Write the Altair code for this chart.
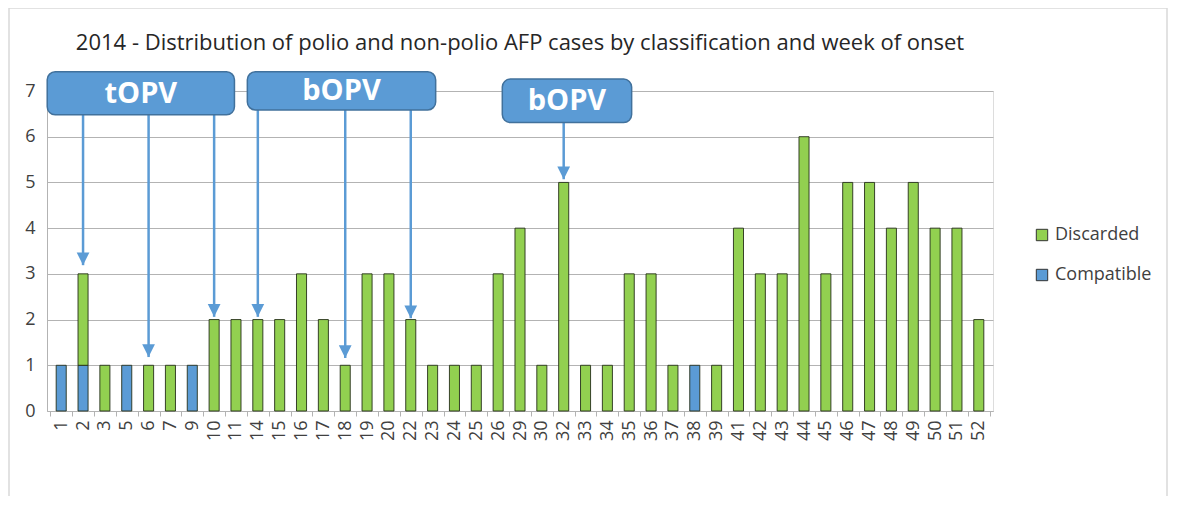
import altair as alt
import pandas as pd

# ---------------- data ----------------
weeks = ["1", "2", "3", "5", "6", "7", "9", "10", "11", "14", "15", "16", "17", "18",
         "19", "20", "22", "23", "24", "25", "26", "29", "30", "32", "33", "34", "35",
         "36", "37", "38", "39", "41", "42", "43", "44", "45", "46", "47", "48", "49",
         "50", "51", "52"]
compatible = [1, 1, 0, 1, 0, 0, 1, 0, 0, 0, 0, 0, 0, 0,
              0, 0, 0, 0, 0, 0, 0, 0, 0, 0, 0, 0, 0,
              0, 0, 1, 0, 0, 0, 0, 0, 0, 0, 0, 0, 0,
              0, 0, 0]
discarded = [0, 2, 1, 0, 1, 1, 0, 2, 2, 2, 2, 3, 2, 1,
             3, 3, 2, 1, 1, 1, 3, 4, 1, 5, 1, 1, 3,
             3, 1, 0, 1, 4, 3, 3, 6, 3, 5, 5, 4, 5,
             4, 4, 2]
series = ["Discarded", "Compatible"]
series_colors = ["#92D050", "#5B9BD5"]

# callout boxes (x in category-index units, y in case units)
box_labels = ["tOPV", "bOPV", "bOPV"]
box_x_start = [-0.64, 8.52, 20.19]
box_x_end = [7.93, 17.14, 26.11]
box_y_bottom = [6.48, 6.585, 6.31]
box_y_top = [7.42, 7.42, 7.26]
box_text_y = [6.93, 6.99, 6.78]

# arrows from boxes to weeks
arrow_weeks = ["2", "6", "10", "14", "18", "22", "32"]
arrow_from = [6.48, 6.48, 6.48, 6.585, 6.585, 6.585, 6.31]
arrow_tip = [3.19, 1.18, 2.06, 2.06, 1.16, 2.03, 5.07]

# ---------------- tables ----------------
rows = []
for w, c, d in zip(weeks, compatible, discarded):
    if c > 0:
        rows.append({"week": w, "class": "Compatible", "cases": c, "ord": 0})
    if d > 0:
        rows.append({"week": w, "class": "Discarded", "cases": d, "ord": 1})
bars_df = pd.DataFrame(rows)

boxes_df = pd.DataFrame({
    "label": box_labels, "x0": box_x_start, "x1": box_x_end,
    "y0": box_y_bottom, "y1": box_y_top, "ty": box_text_y,
})
boxes_df["xm"] = (boxes_df["x0"] + boxes_df["x1"]) / 2
arrows_df = pd.DataFrame({"week": arrow_weeks, "y0": arrow_from, "tip": arrow_tip})

W, H = 946, 320
n = len(weeks)
pad_outer = 0.15

font = "Open Sans"
txt = "#404040"
grid = "#b3b3b3"

x_band = alt.X("week:N", sort=weeks,
               scale=alt.Scale(domain=weeks, paddingInner=0, paddingOuter=pad_outer),
               axis=alt.Axis(title=None, labelAngle=-90, labelFontSize=18, labelColor=txt,
                             labelFont=font, tickBand="extent", tickSize=5, tickColor=grid,
                             domainColor=grid, labelPadding=4, grid=False,
                             labelBaseline="middle", labelAlign="right"))
y_scale = alt.Scale(domain=[0, 7], nice=False)
y_axis = alt.Axis(title=None, values=[0, 1, 2, 3, 4, 5, 6, 7], labelFontSize=18,
                  labelColor=txt, labelFont=font, ticks=False, domainColor=grid,
                  gridColor=grid, labelPadding=12)

bars = alt.Chart(bars_df).mark_bar(
    width=alt.RelativeBandSize(0.46), stroke="#26301a", strokeWidth=1, strokeOpacity=0.9
).encode(
    x=x_band,
    y=alt.Y("cases:Q", stack="zero", scale=y_scale, axis=y_axis),
    color=alt.Color("class:N", scale=alt.Scale(domain=series, range=series_colors),
                    legend=alt.Legend(title=None, orient="none", legendX=986, legendY=135,
                                      labelFontSize=18, labelColor=txt, labelFont=font,
                                      symbolType="square", symbolSize=130,
                                      symbolStrokeColor="#333333", symbolStrokeWidth=1,
                                      rowPadding=22, labelOffset=4)),
    order=alt.Order("ord:Q"),
)

arrow_color = "#5B9BD5"
arrow_lines = alt.Chart(arrows_df).mark_rule(color=arrow_color, strokeWidth=2.5).encode(
    x=alt.X("week:N", sort=weeks),
    y=alt.Y("y0:Q", scale=y_scale),
    y2="tip:Q",
)
arrow_heads = alt.Chart(arrows_df).mark_point(
    shape="M-0.5,-1L0.5,-1L0,0Z", filled=True, color=arrow_color, opacity=1, size=650
).encode(
    x=alt.X("week:N", sort=weeks),
    y=alt.Y("tip:Q", scale=y_scale),
)

x_idx = alt.Scale(domain=[-0.5 - pad_outer, n - 0.5 + pad_outer], nice=False, zero=False)
boxes = alt.Chart(boxes_df).mark_rect(
    fill="#5B9BD5", stroke="#41719C", strokeWidth=1.5, cornerRadius=8
).encode(
    x=alt.X("x0:Q", scale=x_idx, axis=None),
    x2="x1:Q",
    y=alt.Y("y0:Q", scale=y_scale),
    y2="y1:Q",
)
box_text = alt.Chart(boxes_df).mark_text(
    color="white", font=font, fontWeight="bold", fontSize=29, baseline="middle"
).encode(
    x=alt.X("xm:Q", scale=x_idx, axis=None),
    y=alt.Y("ty:Q", scale=y_scale),
    text="label:N",
)

frame = alt.Chart(pd.DataFrame({"a": [0]})).mark_rect(
    fill=None, stroke="#d9d9d9", strokeWidth=1.5
).encode(
    x=alt.value(-38), x2=alt.value(1120), y=alt.value(-83), y2=alt.value(406)
)

band_layer = alt.layer(bars, arrow_lines, arrow_heads)
idx_layer = alt.layer(boxes, box_text)

chart = alt.layer(band_layer, idx_layer, frame).resolve_scale(x="independent").properties(
    width=W, height=H,
    title=alt.Title("2014 - Distribution of polio and non-polio AFP cases by classification and week of onset",
                    fontSize=22, font=font, fontWeight="normal", color="#262626",
                    anchor="middle", frame="group", baseline="alphabetic", offset=-65),
    autosize=alt.AutoSizeParams(type="none"),
    padding={"left": 39, "top": 83, "right": 176, "bottom": 85},
).configure_view(stroke=None).configure(background="white")

chart.save("out.html", embed_options={"renderer": "svg", "actions": False})
